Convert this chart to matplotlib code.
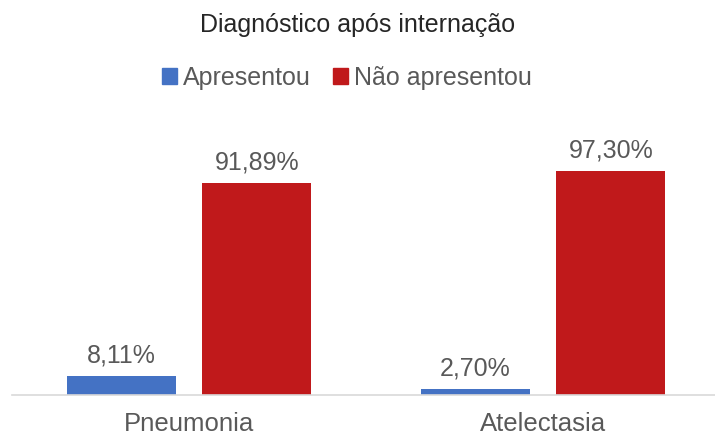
import numpy as np
import matplotlib.pyplot as plt
from matplotlib.patches import Patch

plt.rcParams['font.family'] = ['Liberation Sans', 'DejaVu Sans']

categories = ['Pneumonia', 'Atelectasia']
series_names = ['Apresentou', 'Não apresentou']
apresentou = [8.11, 2.70]
nao_apresentou = [91.89, 97.30]

colors = ['#4472C4', '#C0191B']
text_gray = '#595959'

W, H = 715, 436
fig = plt.figure(figsize=(W / 100, H / 100), dpi=100)
# axes placed in pixel coordinates: baseline at y=395, 0..100 spans 230.7 px
ax = fig.add_axes([12 / W, 41 / H, 708 / W, 230.7 / H])

x = np.arange(len(categories))
width = 0.308
offset = 0.192
bars1 = ax.bar(x - offset, apresentou, width, color=colors[0])
bars2 = ax.bar(x + offset, nao_apresentou, width, color=colors[1])

for bars, vals in [(bars1, apresentou), (bars2, nao_apresentou)]:
    for b, v in zip(bars, vals):
        ax.annotate(f'{v:.2f}%'.replace('.', ','),
                    (b.get_x() + b.get_width() / 2, v),
                    xytext=(0, 6), textcoords='offset points',
                    ha='center', va='bottom', fontsize=18, color=text_gray)

ax.set_xlim(-0.5, 1.5)
ax.set_ylim(0, 100)
ax.set_xticks(x)
ax.set_xticklabels(categories, fontsize=18.5, color=text_gray)
ax.tick_params(axis='x', length=0, pad=12)
ax.set_yticks([])
for s in ['top', 'right', 'left']:
    ax.spines[s].set_visible(False)
ax.spines['bottom'].set_color('#D9D9D9')
ax.spines['bottom'].set_linewidth(1.2)

fig.text(358 / W, 1 - 25 / H, 'Diagnóstico após internação',
         ha='center', va='center', fontsize=18, color='#262626')

handles = [Patch(color=c) for c in colors]
leg = fig.legend(handles, series_names, loc='center', bbox_to_anchor=(347 / W, 1 - 78 / H),
                 ncol=2, frameon=False, fontsize=18, handlelength=0.6, handleheight=0.6,
                 handletextpad=0.25, columnspacing=0.9)
for t in leg.get_texts():
    t.set_color(text_gray)

fig.savefig('out.png', dpi=100)
